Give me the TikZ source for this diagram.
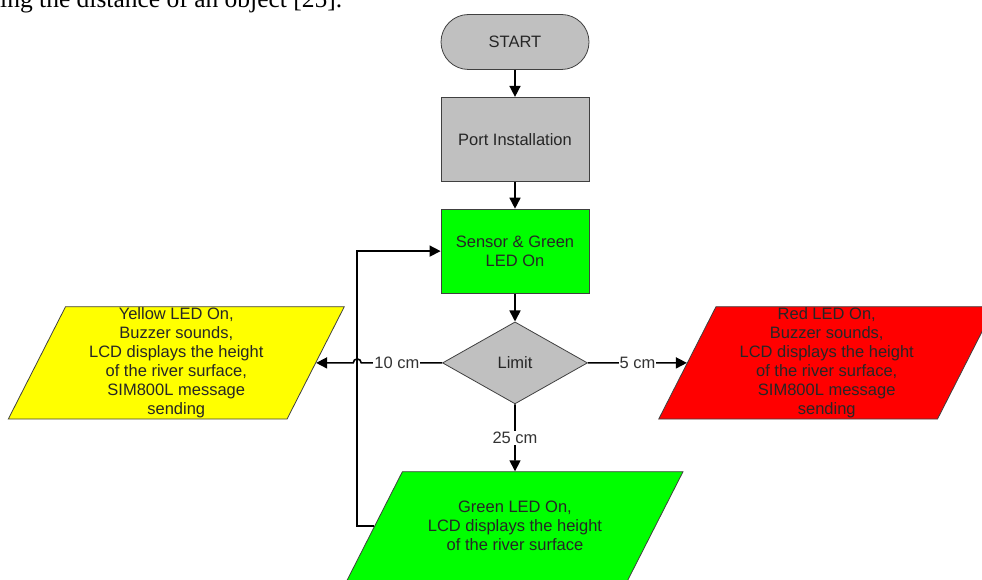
\documentclass[tikz,border=0pt]{standalone}
\usepackage{fontspec}
\setmainfont{Liberation Sans}
\newfontfamily\capfont{Liberation Serif}
\usetikzlibrary{arrows.meta,positioning,shapes.geometric}
\definecolor{boxgray}{RGB}{192,192,192}
\definecolor{ledgreen}{RGB}{0,255,0}
\definecolor{ledyellow}{RGB}{255,255,0}
\definecolor{ledred}{RGB}{255,0,0}
\definecolor{edgegray}{RGB}{64,64,64}

\begin{document}
\begin{tikzpicture}[>={Triangle[width=11pt,length=11pt]},node distance=27pt,
  base/.style={draw=edgegray,line width=0.8pt,font=\fontsize{16.5}{19}\selectfont,text=black!85,align=center},
  term/.style={base,fill=boxgray,rounded corners=27.5pt,minimum width=148pt,minimum height=55pt},
  proc/.style={base,rectangle,minimum width=148pt,minimum height=84pt},
  decide/.style={base,diamond,fill=boxgray,minimum width=145pt,minimum height=82pt,aspect=1.77},
  io/.style={base,trapezium,trapezium left angle=63,trapezium right angle=117,trapezium stretches body,inner ysep=1pt,minimum width=336pt},
  flow/.style={line width=1.6pt,->},
  cond/.style={fill=white,inner sep=1pt,font=\fontsize{16.5}{19}\selectfont,text=black!80}]

\useasboundingbox (0,0) rectangle (982pt,-580pt);
\clip (0,0) rectangle (982pt,-580pt);

\node[font=\capfont\fontsize{25.5}{30}\selectfont,anchor=base west,inner sep=0pt] (cap) at (0pt,-8pt) {ing the distance of an object [25].};

\node[term]   (start)      at (515pt,-42pt)     {START};
 \node[proc,fill=boxgray]   (port) [below=of start]   {Port Installation};
\node[proc,fill=ledgreen]   (sens) [below=of port]   {Sensor \& Green\\LED On};
\node[decide]   (lim) [below=28pt of sens]   {Limit};
\node[io,fill=ledgreen,inner ysep=29.5pt]   (grn) [below=67pt of lim]   {Green LED On,\\LCD displays the height\\of the river surface};
\node[io,fill=ledyellow]   (yel) [left=126pt of lim]   {Yellow LED On,\\Buzzer sounds,\\LCD displays the height\\of the river surface,\\SIM800L message\\sending};
\node[io,fill=ledred]   (red) [right=99pt of lim]   {Red LED On,\\Buzzer sounds,\\LCD displays the height\\of the river surface,\\SIM800L message\\sending};

\coordinate (hop) at ([xshift=-17pt]grn.west |- lim.west);

	\path[flow] (start) edge (port)
	            (port) edge (sens)
	            (sens) edge (lim)
	            (lim) edge node[cond]{5 cm} (red)
	            (lim) edge node[cond]{25 cm} (grn);

\draw[flow] (lim.west) -- node[cond,pos=0.56]{10 cm} ([xshift=4pt]hop)
    arc[start angle=0,end angle=180,radius=4pt] -- (yel.east);
\draw[flow] (grn.west) -| (hop) |- (sens.west);

\end{tikzpicture}
\end{document}
